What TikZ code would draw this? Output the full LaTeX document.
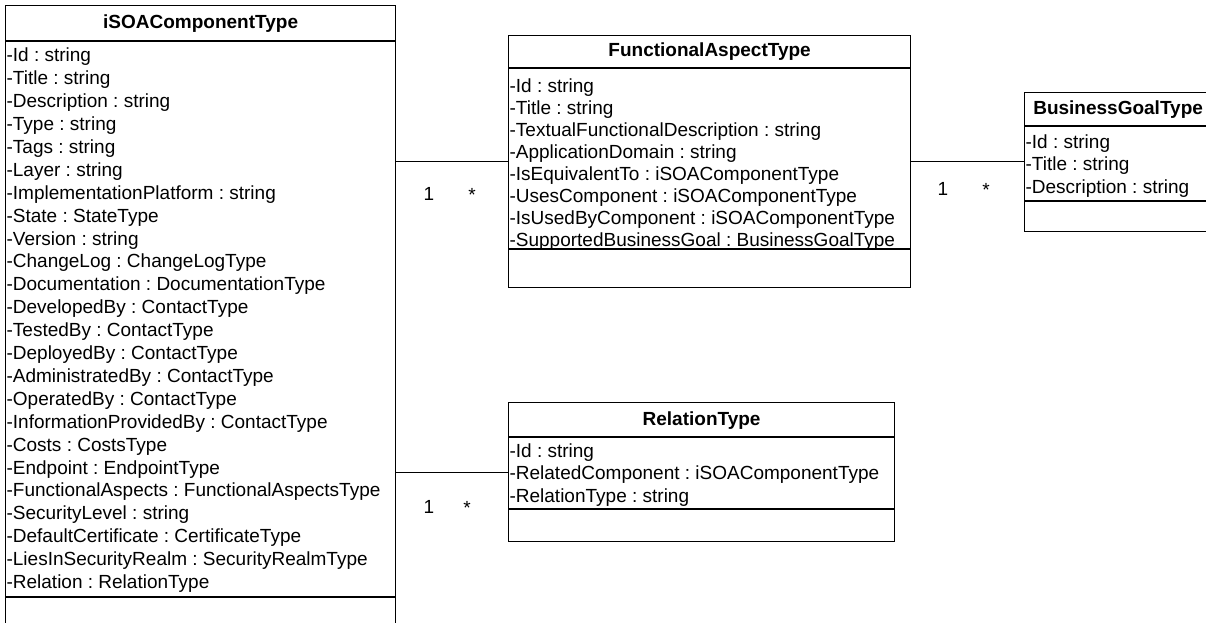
\documentclass[tikz,border=0pt]{standalone}
\usepackage{fontspec}
\setmainfont{Liberation Sans}
\usepackage{tikz}

\tikzset{
  classbox/.style={draw=black, rectangle, anchor=north west, inner sep=0pt},
  classname/.style={anchor=base, inner sep=0pt, font=\fontsize{19}{22}\selectfont\bfseries},
  classattr/.style={anchor=north west, inner sep=0pt, align=left, font=\fontsize{19}{#1}\selectfont\frenchspacing},
  mult/.style={anchor=base, inner sep=0pt, font=\fontsize{19}{22}\selectfont},
}

\begin{document}
\begin{tikzpicture}[x=1pt, y=-1pt, line width=1.2pt]
    \useasboundingbox (0,0) rectangle (1206,623);

    % iSOAComponentType
    \node[classbox, minimum width=390pt, minimum height=660pt] (comp) at (5,5) {};
    \draw ([yshift=-36pt]comp.north west) -- ([yshift=-36pt]comp.north east);
    \draw ([yshift=-592pt]comp.north west) -- ([yshift=-592pt]comp.north east);
    \node[classname] (comp-name) at ([yshift=-23.5pt]comp.north) {iSOAComponentType};
    \node[classattr=22.9pt] (comp-attr) at ([shift={(1pt,-42.5pt)}]comp.north west) {%
        -Id : string\\-Title : string\\-Description : string\\-Type : string\\
        -Tags : string\\-Layer : string\\-ImplementationPlatform : string\\
        -State : StateType\\-Version : string\\-ChangeLog : ChangeLogType\\
        -Documentation : DocumentationType\\-DevelopedBy : ContactType\\
        -TestedBy : ContactType\\-DeployedBy : ContactType\\
        -AdministratedBy : ContactType\\-OperatedBy : ContactType\\
        -InformationProvidedBy : ContactType\\-Costs : CostsType\\
        -Endpoint : EndpointType\\-FunctionalAspects : FunctionalAspectsType\\
        -SecurityLevel : string\\-DefaultCertificate : CertificateType\\
        -LiesInSecurityRealm : SecurityRealmType\\-Relation : RelationType};

    % FunctionalAspectType
    \node[classbox, minimum width=402pt, minimum height=252pt] (fa) at (508,35) {};
    \draw ([yshift=-33pt]fa.north west) -- ([yshift=-33pt]fa.north east);
    \draw ([yshift=-214pt]fa.north west) -- ([yshift=-214pt]fa.north east);
    \node[classname] (fa-name) at ([yshift=-21.5pt]fa.north) {FunctionalAspectType};
    \node[classattr=22pt] (fa-attr) at ([shift={(1pt,-43pt)}]fa.north west) {%
        -Id : string\\-Title : string\\-TextualFunctionalDescription : string\\
        -ApplicationDomain : string\\-IsEquivalentTo : iSOAComponentType\\
        -UsesComponent : iSOAComponentType\\-IsUsedByComponent : iSOAComponentType\\
        -SupportedBusinessGoal : BusinessGoalType};

    % BusinessGoalType
    \node[classbox, minimum width=187pt, minimum height=139pt] (bg) at (1024,92) {};
    \draw ([yshift=-34pt]bg.north west) -- ([yshift=-34pt]bg.north east);
    \draw ([yshift=-109pt]bg.north west) -- ([yshift=-109pt]bg.north east);
    \node[classname] (bg-name) at ([yshift=-22.3pt]bg.north) {BusinessGoalType};
    \node[classattr=22.5pt] (bg-attr) at ([shift={(1pt,-42pt)}]bg.north west) {%
        -Id : string\\-Title : string\\-Description : string};

    % RelationType
    \node[classbox, minimum width=386pt, minimum height=139pt] (rel) at (508,402) {};
    \draw ([yshift=-35pt]rel.north west) -- ([yshift=-35pt]rel.north east);
    \draw ([yshift=-107pt]rel.north west) -- ([yshift=-107pt]rel.north east);
    \node[classname] (rel-name) at ([yshift=-23pt]rel.north) {RelationType};
    \node[classattr=22.5pt] (rel-attr) at ([shift={(1pt,-41pt)}]rel.north west) {%
        -Id : string\\-RelatedComponent : iSOAComponentType\\-RelationType : string};

    % associations
    \draw (comp.east |- fa.west) -- (fa.west);
    \draw (fa.east) -- (fa.east -| bg.west);
    \draw (comp.east |- rel.west) -- (rel.west);

    \node[mult] (fa-one) at (429,200) {1};
    \node[mult] (fa-many) at (472,201) {*};
    \node[mult] (bg-one) at (943,195) {1};
    \node[mult] (bg-many) at (986,196) {*};
    \node[mult] (rel-one) at (429,513) {1};
    \node[mult] (rel-many) at (467,514) {*};
\end{tikzpicture}
\end{document}
